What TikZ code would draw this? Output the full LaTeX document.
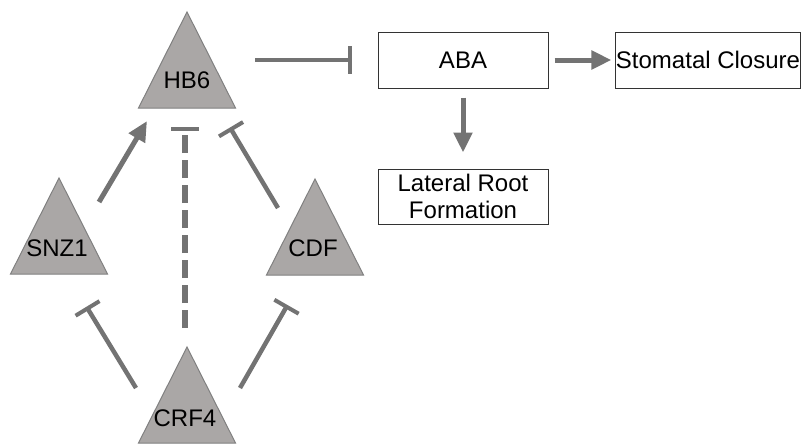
\documentclass[tikz,border=0pt]{standalone}
\usepackage{fontspec}
\setmainfont{Liberation Sans}
\usetikzlibrary{shapes.geometric,arrows.meta,calc}
\definecolor{genefill}{RGB}{170,167,166}
\definecolor{geneline}{RGB}{128,128,128}
\definecolor{linkgray}{RGB}{115,115,115}

\begin{document}
\begin{tikzpicture}[x=0.5pt,y=-0.5pt,
	gene/.style={isosceles triangle, isosceles triangle stretches, shape border rotate=90, minimum width=48.5pt, minimum height=48pt, inner sep=0pt, outer sep=0pt, fill=genefill, draw=geneline, line width=0.5pt, anchor=apex},
	genelbl/.style={font=\fontsize{12}{14}\selectfont, inner sep=0pt},
	outbox/.style={draw=black!80, line width=0.5pt, minimum height=28pt, inner sep=0pt, align=center, font=\fontsize{12}{13.4}\selectfont},
	act/.style={draw=linkgray, line width=2.5pt, -{Triangle[length=10pt,width=9pt]}},
	inh/.style={draw=linkgray, line width=2.25pt, -{Bar[width=14pt,line width=2pt]}},
	inhdash/.style={inh, line width=2.75pt, dash pattern=on 9.25pt off 3.25pt}]

		\useasboundingbox (0,0) rectangle (801,445);

		% genes
		\node[gene] (hb6) at (187,12) {};
		\node[gene] (snz1) at (59,178) {};
		\node[gene] (cdf) at (315,179) {};
		\node[gene] (crf4) at (187,347) {};

		\node[genelbl] (hb6lbl) at (187,80) {HB6};
		\node[genelbl] (snz1lbl) at (57,248) {SNZ1};
		\node[genelbl] (cdflbl) at (313,248) {CDF};
		\node[genelbl] (crf4lbl) at (185,418) {CRF4};

		% outputs
		\node[outbox, minimum width=85pt] (aba) at (463,60) {ABA};
		\node[outbox, minimum width=92pt] (stoma) at (708,60) {Stomatal Closure};
		\node[outbox, minimum width=85pt, minimum height=27.5pt] (lrf) at (463,196.5) {Lateral Root\\Formation};

		% links
		\draw[inh] ($(hb6.apex)+(68,48)$) -- ([xshift=-13pt]aba.west);
		\draw[act] ($(snz1.apex)+(40,24)$) -- ($(hb6.apex)+(-40,109)$);
		\draw[inh] ($(cdf.apex)+(-37,29)$) -- ($(hb6.apex)+(43,115.5)$);
		\draw[inhdash] ($(crf4.apex)+(-2,-19)$) -- ($(hb6.apex)+(-2,115)$);
		\draw[inh] ($(crf4.apex)+(-51,41)$) -- ($(snz1.apex)+(27.5,128.7)$);
		\draw[inh] ($(crf4.apex)+(53,41)$) -- ($(cdf.apex)+(-27.5,126)$);
		\draw[act] ([xshift=3pt]aba.east) -- ([xshift=-2pt]stoma.west);
		\draw[act] ([yshift=-4.5pt]aba.south) -- ([yshift=8pt]lrf.north);

	\end{tikzpicture}
\end{document}
